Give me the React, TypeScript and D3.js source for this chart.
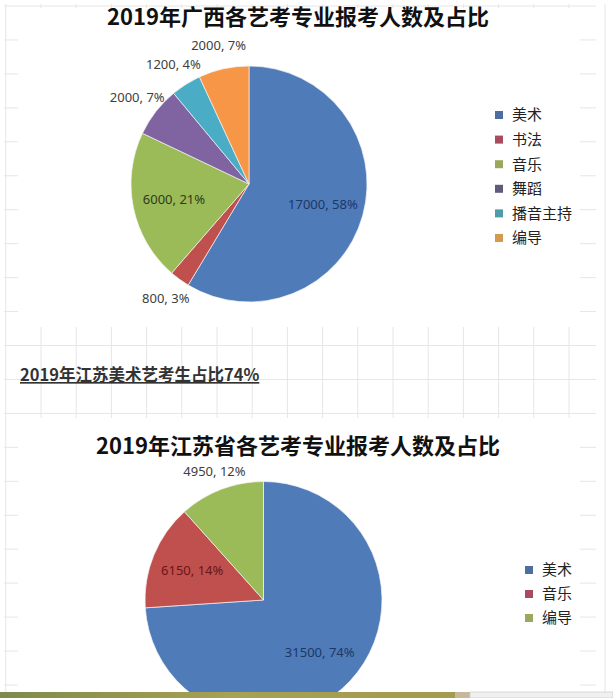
import React from 'react';
import * as d3 from 'd3';

// 2019 广西
const gxCategories = ['美术', '书法', '音乐', '舞蹈', '播音主持', '编导'];
const gxValues = [17000, 800, 6000, 2000, 1200, 2000];
const gxPercents = ['58%', '3%', '21%', '7%', '4%', '7%'];

// 2019 江苏
const jsCategories = ['美术', '音乐', '编导'];
const jsValues = [31500, 6150, 4950];
const jsPercents = ['74%', '14%', '12%'];

// Excel-style series colours, taken in order
const sliceColors = ['#4f7bb9', '#c0504d', '#9bbb59', '#8064a2', '#4bacc6', '#f79646'];
const legendColors = ['#4d6f9e', '#a94a5e', '#9aa85e', '#615a7a', '#4e9da6', '#d49a52'];
const insideInk = ['#1e3766', '#6b1414', '#2f3a1c', '#404040', '#404040', '#404040'];

const W = 613, H = 698;
const CJK = '"Noto Sans CJK SC", "Noto Sans", sans-serif';

type PieProps = {
  title: string;
  titleY: number;
  cx: number;
  cy: number;
  r: number;
  cats: string[];
  vals: number[];
  pcts: string[];
  outerK: number;
  legendX: number;
  legendY: number;
  legendGap: number;
};

const PieBlock = ({ title, titleY, cx, cy, r, cats, vals, pcts, outerK, legendX, legendY, legendGap }: PieProps) => {
  const total = d3.sum(vals);
  const arcs = d3.pie<number>().sort(null).value(d => d)(vals);
  const arc = d3.arc<d3.PieArcDatum<number>>().innerRadius(0).outerRadius(r);
  const inner = d3.arc<d3.PieArcDatum<number>>().innerRadius(r * 0.65).outerRadius(r * 0.65);
  const outer = d3.arc<d3.PieArcDatum<number>>().innerRadius(r * outerK).outerRadius(r * outerK);

  return (
    <g>
      <text x={298} y={titleY} textAnchor="middle" fontFamily={CJK} fontWeight="bold" fontSize={22} fill="#111">
        {title}
      </text>
      <g transform={`translate(${cx},${cy})`}>
        {arcs.map((a, i) => (
          <path key={i} d={arc(a) || ''} fill={sliceColors[i]} stroke="#f4f4f4" strokeWidth={0.7} />
        ))}
        {arcs.map((a, i) => {
          const inside = vals[i] / total > 0.13;
          const [lx, ly] = (inside ? inner : outer).centroid(a);
          return (
            <text key={i} x={lx} y={ly} dy="0.35em" textAnchor="middle" fontFamily='"Noto Sans", sans-serif'
              fontSize={13} fill={inside ? insideInk[i] : '#404040'}>
              {`${vals[i]}, ${pcts[i]}`}
            </text>
          );
        })}
      </g>
      <g transform={`translate(${legendX},${legendY})`}>
        {cats.map((c, i) => (
          <g key={c} transform={`translate(0,${i * legendGap})`}>
            <rect x={0} y={-4} width={8} height={8} fill={legendColors[i]} />
            <text x={17} y={0} dy="0.36em" fontFamily={CJK} fontSize={15} fill="#222">{c}</text>
          </g>
        ))}
      </g>
    </g>
  );
};

const App = () => {
  const hLines = d3.range(6, 690, 33.95);
  const vLines = d3.range(5.8, 600, 35.2);

  return (
    <svg width={W} height={H} style={{ position: 'absolute', left: 0, top: 0, background: '#fff' }}>
      <defs>
        <linearGradient id="olive" x1="0" x2="1" y1="0" y2="0">
          <stop offset="0" stopColor="#7f8a4c" />
          <stop offset="0.5" stopColor="#a8a052" />
          <stop offset="1" stopColor="#a49a50" />
        </linearGradient>
      </defs>
      {/* spreadsheet grid */}
      <g stroke="#e6e6e6" strokeWidth={1}>
        {hLines.map(y => <line key={'h' + y} x1={4} x2={596} y1={y} y2={y} />)}
        {vLines.map(x => <line key={'v' + x} x1={x} x2={x} y1={4} y2={692} />)}
        <line x1={605} x2={605} y1={4} y2={692} />
      </g>
      {/* chart areas */}
      <rect x={18} y={8} width={562} height={319} fill="#fff" />
      <rect x={18} y={418} width={562} height={274} fill="#fff" />

      <PieBlock title="2019年广西各艺考专业报考人数及占比" titleY={25} cx={249} cy={184} r={118}
        cats={gxCategories} vals={gxValues} pcts={gxPercents} outerK={1.2}
        legendX={495} legendY={115} legendGap={24.6} />

      <text x={20} y={381} fontFamily={CJK} fontWeight="bold" fontSize={16.5} fill="#333" textDecoration="underline">
        2019年江苏美术艺考生占比74%
      </text>

      <PieBlock title="2019年江苏省各艺考专业报考人数及占比" titleY={454} cx={263.5} cy={600} r={118.5}
        cats={jsCategories} vals={jsValues} pcts={jsPercents} outerK={1.16}
        legendX={525} legendY={570} legendGap={24} />

      {/* bottom strip */}
      <rect x={0} y={692} width={455} height={6} fill="url(#olive)" />
      <rect x={455} y={692} width={15} height={6} fill="#c8b89a" />
      <rect x={470} y={692} width={143} height={6} fill="#f0f0f0" stroke="#cfcfcf" strokeWidth={0.8} />
    </svg>
  );
};

export default App;
